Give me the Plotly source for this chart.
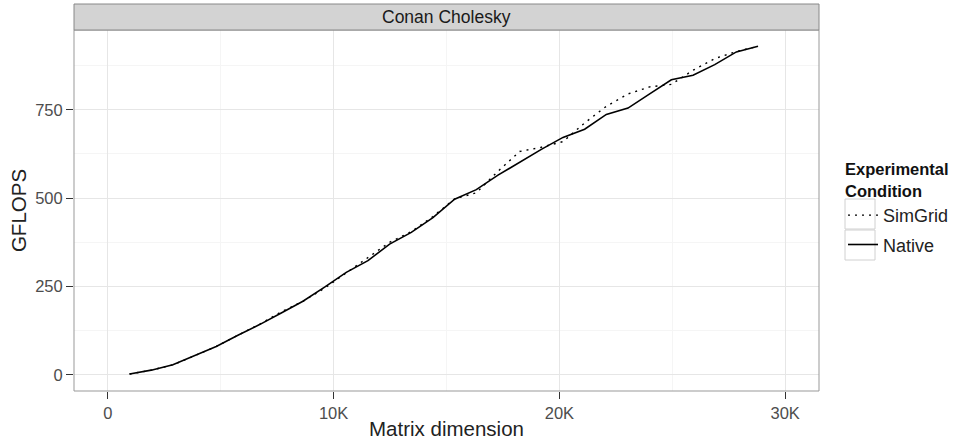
import plotly.graph_objects as go

# ---- data ----
matrix_dim = [960 * k for k in range(1, 31)]
native_gflops = [2, 13, 28, 55, 80, 112, 142, 175, 208, 248,
                 290, 323, 370, 403, 445, 497, 524, 565, 602, 638,
                 672, 695, 737, 755, 795, 835, 848, 878, 914, 930]
simgrid_gflops = [2, 13, 28, 54, 80, 112, 143, 178, 208, 245,
                  288, 330, 375, 405, 448, 498, 515, 576, 632, 644,
                  660, 713, 760, 795, 815, 822, 862, 895, 915, 930]
x_tickvals = [0, 10000, 20000, 30000]
x_ticktext = ["0", "10K", "20K", "30K"]
y_tickvals = [0, 250, 500, 750]
panel_title = "Conan Cholesky"
legend_title = "<b>Experimental<br>Condition</b>"

FONT = "Liberation Sans, Arial, sans-serif"

fig = go.Figure()
fig.add_trace(go.Scatter(x=matrix_dim, y=simgrid_gflops, mode="lines", name="SimGrid",
                         legendgroup="a",
                         line=dict(color="black", width=1.4, dash="2px,5px")))
fig.add_trace(go.Scatter(x=matrix_dim, y=native_gflops, mode="lines", name="Native",
                         legendgroup="b",
                         line=dict(color="black", width=1.6)))

grid_major = "#E6E6E6"
fig.update_xaxes(range=[-1500, 31500], tickvals=x_tickvals, ticktext=x_ticktext,
                 automargin=False,
                 showgrid=True, gridcolor=grid_major, gridwidth=1,
                 minor=dict(tickvals=[5000, 15000, 25000], showgrid=True, gridcolor="#F5F5F5", gridwidth=1),
                 ticks="outside", ticklen=7, tickcolor="#333333", tickwidth=1,
                 tickfont=dict(size=16.5, color="#4D4D4D", family=FONT),
                 title=dict(text="Matrix dimension", font=dict(size=20.5, color="#222", family=FONT), standoff=0),
                 zeroline=False, showline=False, mirror=False)
fig.update_yaxes(range=[-46, 976], tickvals=y_tickvals,
                 automargin=False,
                 showgrid=True, gridcolor=grid_major, gridwidth=1,
                 minor=dict(tickvals=[125, 375, 625, 875], showgrid=True, gridcolor="#F5F5F5", gridwidth=1),
                 ticks="outside", ticklen=7, tickcolor="#333333", tickwidth=1,
                 tickfont=dict(size=16.5, color="#4D4D4D", family=FONT),
                 title=dict(text="GFLOPS", font=dict(size=20.5, color="#222", family=FONT), standoff=2),
                 zeroline=False, showline=False)

strip_h = 26 / 361
fig.add_shape(type="rect", xref="paper", yref="paper", x0=0, x1=1, y0=0, y1=1,
              line=dict(color="#999999", width=1), fillcolor="rgba(0,0,0,0)", layer="above")
fig.add_shape(type="rect", xref="paper", yref="paper", x0=0, x1=1, y0=1, y1=1 + strip_h,
              line=dict(color="#888888", width=1), fillcolor="#D3D3D3")
fig.add_annotation(text=panel_title, xref="paper", yref="paper", x=0.5, y=1 + strip_h / 2,
                   showarrow=False, font=dict(size=17.5, color="#1A1A1A", family=FONT),
                   xanchor="center", yanchor="middle")

# legend key boxes (decoration, ggplot style)
for y0, y1 in [(199, 229), (230, 260)]:
    fig.add_shape(type="rect", xref="paper", yref="paper",
                  x0=(845 - 74) / 745, x1=(875 - 74) / 745,
                  y0=(391 - y1) / 361, y1=(391 - y0) / 361,
                  line=dict(color="#D0D0D0", width=1), fillcolor="rgba(0,0,0,0)")

fig.update_layout(
    width=956, height=440,
    margin=dict(l=74, r=137, t=30, b=49, autoexpand=False),
    paper_bgcolor="white", plot_bgcolor="white",
    font=dict(family=FONT),
    showlegend=True,
    legend=dict(xref="container", yref="container",
                x=843 / 956, xanchor="left", y=(440 - 154) / 440, yanchor="top",
                title=dict(text=legend_title, font=dict(size=16.5, color="#111", family=FONT)),
                font=dict(size=18, color="#222", family=FONT),
                tracegroupgap=3, itemwidth=30, bgcolor="rgba(0,0,0,0)"),
)

fig.write_html("out.html")
